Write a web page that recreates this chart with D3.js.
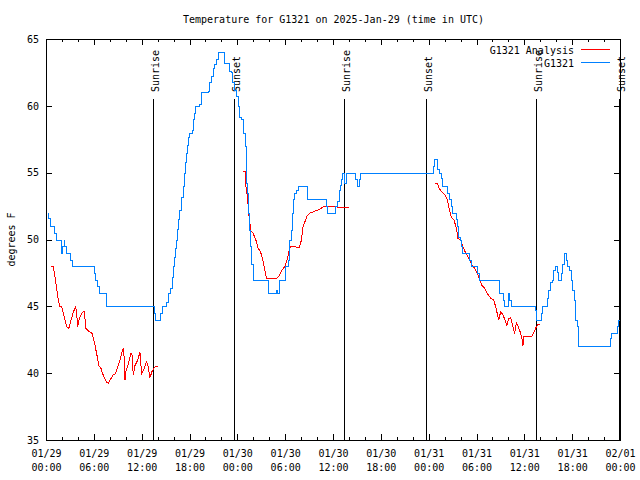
<!DOCTYPE html>
<html><head><meta charset="utf-8">
<script src="https://cdn.jsdelivr.net/npm/d3@7"></script>
<style>
body{margin:0;background:#fff}
svg text{font-family:"DejaVu Sans Mono",monospace;font-size:10px;fill:#000}
svg line, svg path, svg rect{shape-rendering:crispEdges}
</style>
</head><body>
<svg id="chart" width="640" height="480"></svg>
<script>
// ---- data (hours since 2025-01-29 00:00 UTC, degrees F) ----
const startUTC = Date.UTC(2025, 0, 29, 0, 0);
const titleText = "Temperature for G1321 on 2025-Jan-29 (time in UTC)";
const yLabel = "degrees F";
const yTicks = [35, 40, 45, 50, 55, 60, 65];
const seriesNames = ["G1321 Analysis", "G1321"];
const sunEvents = [["Sunrise",13.42],["Sunset",23.58],["Sunrise",37.38],["Sunset",47.67],["Sunrise",61.46],["Sunset",71.88]];

// Observed station temperatures (step line)
const g1321 = [
[0.23,52],[0.31,51.6],[0.44,51],[1.0,50.5],[1.2,50],[1.85,49],[2.05,49.5],[2.2,50],[2.3,49.5],[2.5,49],
[3.0,48.5],[3.2,48],[6.0,47.5],[6.2,47],[6.45,46.5],[6.6,46],[7.5,45],[13.5,44.5],[13.65,44],[14.3,44.5],
[14.5,45],[15.06,45.3],[15.27,46],[15.57,46.4],[15.82,47.2],[15.98,48],[16.1,48.7],[16.23,49.4],[16.32,50],
[16.42,50.8],[16.52,51.5],[16.73,52.2],[16.94,53.2],[17.15,54],[17.36,55],[17.48,55.8],[17.57,56.5],[17.67,57.1],
[17.77,57.7],[17.98,58],[18.32,58.2],[18.42,58.6],[18.48,59],[18.61,59.5],[18.74,60],[19.24,60.1],[19.45,61],
[20.28,61.1],[20.49,61.8],[20.7,62.2],[20.9,62.8],[21.12,63.1],[21.33,63.5],[21.53,64],[22.37,63.2],[22.91,62.6],
[23.21,62.5],[23.34,61.8],[23.62,61.2],[23.84,60.7],[24.04,60],[24.25,59.2],[24.46,59],[24.66,58],[25.0,57],
[25.09,54.2],[25.16,53.5],[25.29,52],[25.42,50.7],[25.59,49.5],[25.72,48.2],[25.92,47],[27.8,46],[28.85,46.2],
[28.93,46],[29.18,46.7],[29.26,47],[29.95,48],[30.3,48.5],[30.43,49.3],[30.52,50],[30.73,50.7],[30.83,52],
[30.93,53],[31.14,53.5],[31.35,53.7],[31.56,54],[32.69,53],[35.12,52.5],[35.22,52],[36.28,52.5],[36.45,52.9],
[36.7,53.7],[36.87,54.1],[37.0,54.5],[37.12,55],[37.44,54.2],[37.6,55],[38.79,54.5],[38.95,54],[39.29,54.5],
[39.42,55],[48.5,55.5],[48.63,56],[49.03,55.3],[49.32,55],[49.53,54.6],[49.73,54],[50.36,53.5],[50.57,53],
[50.78,52.5],[50.98,52],[51.41,51.5],[51.54,51],[51.7,50.2],[51.95,50],[52.11,49.5],[52.24,49],[53.08,48.5],
[53.29,48],[54.12,47.5],[54.33,47],[56.85,46],[57.3,45.5],[57.46,45],[58.0,46],[58.13,45.5],[58.3,45],
[61.31,44.7],[61.44,44],[62.06,44.5],[62.26,45],[62.89,45.6],[63.01,46.2],[63.19,46.8],[63.44,47],[63.6,47.7],
[63.85,48],[64.14,47.6],[64.27,47],[64.61,47.5],[64.77,48.2],[64.98,49],[65.2,48.5],[65.4,48],[65.61,47.7],
[65.82,47],[66.02,46.2],[66.24,45.5],[66.36,44],[66.65,43.5],[66.78,42],[70.71,42.6],[70.84,43],[71.66,43.5],
[71.79,44],[71.94,44]
];

// Analysis temperatures, three separate segments
const analysisSeg1 = [
[0.56,48],[0.85,48],[1.07,47.2],[1.28,46.4],[1.48,45.5],[1.69,45],[1.9,45],[2.11,44.5],[2.32,44],[2.53,43.5],
[2.82,43.4],[3.07,44],[3.36,44.6],[3.66,45],[3.79,44.5],[3.91,43.5],[4.11,44.1],[4.41,44.5],[4.7,44.7],[4.83,44.1],
[4.91,43.4],[5.24,43.2],[5.54,43.1],[5.74,43],[5.99,42.4],[6.29,41.5],[6.58,40.6],[6.83,40.4],[6.99,40.1],[7.24,39.7],
[7.54,39.35],[7.75,39.3],[7.96,39.5],[8.37,39.9],[8.67,40],[8.92,40.5],[9.21,41],[9.42,41.5],[9.63,41.9],[9.75,41.2],
[9.84,39.5],[9.96,40.2],[10.25,40.7],[10.46,41.2],[10.59,41.5],[10.75,41.4],[10.88,39.9],[11.09,40.6],[11.43,41],
[11.72,41.6],[11.93,40],[12.26,40.4],[12.56,40.9],[12.76,40.5],[12.97,39.7],[13.26,40.2],[13.6,40.5],[13.94,40.5]
];
const analysisSeg2 = [
[24.66,55.1],[24.96,55.1],[25.0,54.1],[25.21,53.2],[25.42,51.7],[25.63,50.7],[25.92,50.5],[26.26,50],[26.54,49.4],
[26.85,49.1],[27.1,48.6],[27.3,48],[27.6,47.1],[28.85,47.1],[29.18,47.3],[29.48,47.7],[29.89,48],[30.18,48.5],
[30.43,49.2],[30.6,49.5],[31.14,49.5],[31.68,49.4],[31.98,50],[32.18,51],[32.69,51.8],[33.02,52],[33.44,52.1],
[33.86,52.2],[34.28,52.3],[34.78,52.5],[35.53,52.5],[36.28,52.5],[36.7,52.4],[37.95,52.4]
];
const analysisSeg3 = [
[48.69,54.2],[49.03,54.2],[49.32,53.8],[49.61,53.6],[49.95,53.4],[50.28,53],[50.57,52.2],[50.78,51.7],[51.11,51.5],
[51.41,50.9],[51.61,50.1],[51.95,50],[52.24,49.5],[52.45,49.2],[52.79,48.8],[53.08,48.5],[53.36,48.1],[53.7,47.9],
[54.04,47.5],[54.33,47],[54.62,46.6],[54.95,46.4],[55.29,46],[55.79,45.6],[56.12,45.5],[56.34,45],[56.54,44.5],
[56.71,44],[56.96,44.6],[57.17,44.5],[57.46,44.1],[57.75,43.6],[57.96,44.1],[58.21,44.2],[58.5,43.5],[58.72,43],
[58.93,43.8],[59.13,43.6],[59.43,43.1],[59.68,42.5],[59.76,42.1],[59.88,42.8],[60.89,42.8],[61.14,43.1],
[61.44,43.5],[61.64,43.7],[61.94,43.7]
];

// ---- drawing ----
const svg = d3.select("#chart");
const L = 46, R = 620, T = 39, B = 440;
const toDate = h => new Date(startUTC + h * 3600e3);
const x = d3.scaleUtc().domain([toDate(0), toDate(72)]).range([L, R]);
const y = d3.scaleLinear().domain([35, 65]).range([B, T]);
const fmtD = d3.utcFormat("%m/%d"), fmtT = d3.utcFormat("%H:%M");

function clean(g){ g.attr("font-family", null).attr("font-size", null); g.select(".domain").remove(); }

// minor x ticks (bottom & top)
svg.append("g").attr("transform", `translate(0,${B})`)
  .call(d3.axisBottom(x).ticks(d3.utcHour.every(2)).tickSize(-3).tickSizeOuter(0).tickFormat(""))
  .call(clean);
svg.append("g").attr("transform", `translate(0,${T})`)
  .call(d3.axisTop(x).ticks(d3.utcHour.every(2)).tickSize(-3).tickSizeOuter(0).tickFormat(""))
  .call(clean);
// major x ticks
const gx = svg.append("g").attr("transform", `translate(0,${B})`)
  .call(d3.axisBottom(x).ticks(d3.utcHour.every(6)).tickSize(-6).tickSizeOuter(0).tickFormat(""))
  .call(clean);
gx.selectAll(".tick text").remove();
gx.selectAll(".tick").each(function(d){
  const t = d3.select(this).append("text").attr("text-anchor", "middle");
  t.append("tspan").attr("x", 0).attr("y", 17).text(fmtD(d));
  t.append("tspan").attr("x", 0).attr("y", 31).text(fmtT(d));
});
svg.append("g").attr("transform", `translate(0,${T})`)
  .call(d3.axisTop(x).ticks(d3.utcHour.every(6)).tickSize(-6).tickSizeOuter(0).tickFormat(""))
  .call(clean);

// y axes
svg.append("g").attr("transform", `translate(${L},0)`)
  .call(d3.axisLeft(y).tickValues(yTicks).tickSize(-6).tickSizeOuter(0).tickPadding(7))
  .call(clean)
  .selectAll("text").attr("fill", "#000");
svg.append("g").attr("transform", `translate(${R},0)`)
  .call(d3.axisRight(y).tickValues(yTicks).tickSize(-6).tickSizeOuter(0).tickFormat(""))
  .call(clean);

svg.selectAll(".tick line").attr("stroke", "#000");

// frame
svg.append("rect").attr("x", L + 0.5).attr("y", T + 0.5)
  .attr("width", R - L).attr("height", B - T)
  .attr("fill", "none").attr("stroke", "#000").attr("stroke-width", 1);

// title and y label
svg.append("text").attr("x", (L + R) / 2 + 0.5).attr("y", 23).attr("text-anchor", "middle").text(titleText);
svg.append("text").attr("transform", `translate(15,${(T + B) / 2}) rotate(-90)`)
  .attr("text-anchor", "middle").text(yLabel);

// sun events
const sun = svg.append("g");
sunEvents.forEach(([name, h]) => {
  const px = Math.round(x(toDate(h))) + 0.5;
  sun.append("line").attr("x1", px).attr("x2", px).attr("y1", 99).attr("y2", B)
    .attr("stroke", "#000").attr("stroke-width", 1);
  sun.append("text").attr("transform", `translate(${px + 5},92) rotate(-90)`)
    .attr("text-anchor", "start").text(name);
});

// data lines
const dataG = svg.append("g").attr("transform", "translate(0.5,0.5)");
const stepLine = d3.line().x(d => x(toDate(d[0]))).y(d => y(d[1])).curve(d3.curveStepAfter);
const lin = d3.line().x(d => x(toDate(d[0]))).y(d => y(d[1]));
[analysisSeg1, analysisSeg2, analysisSeg3].forEach(seg => {
  dataG.append("path").attr("d", lin(seg)).attr("fill", "none").attr("stroke", "#ff0000").attr("stroke-width", 1);
});
dataG.append("path").attr("d", stepLine(g1321)).attr("fill", "none").attr("stroke", "#0080ff").attr("stroke-width", 1);

// legend
const legColors = ["#ff0000", "#0080ff"];
seriesNames.forEach((n, i) => {
  svg.append("text").attr("x", 574).attr("y", 54 + i * 13).attr("text-anchor", "end").text(n);
  svg.append("line").attr("x1", 581).attr("x2", 610).attr("y1", 49.5 + i * 13).attr("y2", 49.5 + i * 13)
    .attr("stroke", legColors[i]).attr("stroke-width", 1);
});
</script>
</body></html>
